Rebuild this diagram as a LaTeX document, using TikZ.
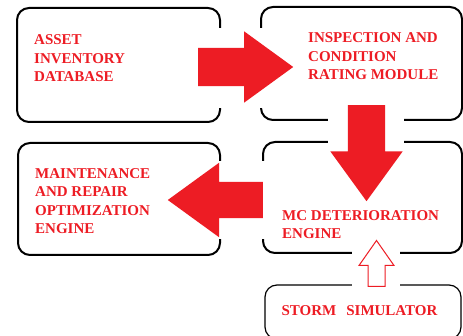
\documentclass[tikz,border=0pt]{standalone}
\usepackage{fontspec}
\setmainfont{Liberation Serif}
\usetikzlibrary{shapes.arrows,positioning}
\definecolor{flowred}{RGB}{237,28,36}

\begin{document}
\begin{tikzpicture}[x=1pt,y=-1pt]
    \tikzset{
      block/.style={
        draw,
        rectangle,
        rounded corners=12pt,
        line width=2pt
      },
      caption/.style={
        anchor=base west,
        align=left,
        inner sep=0pt,
        text=flowred,
        font=\fontsize{15}{18.5}\selectfont\bfseries
      },
      bigarrow/.style={
        single arrow,
        fill=flowred,
        anchor=tail,
        single arrow tip angle=72
      }
    };

    \useasboundingbox (0,0) rectangle (463,336);

    \node [block, minimum width=203pt, minimum height=114pt] (asset) at (118.5,65) {};
    \node [block, minimum width=201pt, minimum height=113pt] (inspect) at (361.5,63.5) {};
    \node [block, minimum width=199pt, minimum height=111pt] (mcdet) at (362.5,197.5) {};
    \node [block, minimum width=202pt, minimum height=112pt] (maint) at (119,199) {};
    \node [block, line width=1.2pt, minimum width=196pt, minimum height=54pt] (storm) at (363,312) {};

    % white gaps behind the arrows
    \fill[white] (196,28) rectangle (297,108);
    \fill[white] (328,104) rectangle (404,203);
    \fill[white] (166,161) rectangle (265,239);
    \fill[white] (352,238) rectangle (400,290);

    \node [bigarrow, shape border rotate=0, minimum height=95pt, inner xsep=0pt,
      inner ysep=19pt, single arrow head extend=16.5pt] (toinspect) at (198,67) {};
    \node [bigarrow, shape border rotate=270, minimum height=96pt, inner ysep=0pt,
      inner xsep=18.5pt, single arrow head extend=17.5pt] (tomc) at (366.5,105) {};
    \node [bigarrow, shape border rotate=180, minimum height=95pt, inner xsep=0pt,
      inner ysep=18pt, single arrow head extend=19pt] (tomaint) at (263,200) {};
    \node [bigarrow, fill=white, draw=flowred, line width=1pt, shape border rotate=90,
      minimum height=46pt, inner ysep=0pt, inner xsep=8pt, single arrow head extend=9pt,
      single arrow tip angle=70] (fromstorm) at (376.5,287) {};

    \node [caption] at ([shift={(18,75)}]asset.north west) {ASSET\\INVENTORY\\DATABASE};
    \node [caption] at ([shift={(48,74)}]inspect.north west) {INSPECTION AND\\CONDITION\\RATING MODULE};
    \node [caption] at ([shift={(18,92)}]maint.north west) {MAINTENANCE\\AND REPAIR\\OPTIMIZATION\\ENGINE};
    \node [caption] at ([shift={(20,98)}]mcdet.north west) {MC DETERIORATION\\ENGINE};
    \node [caption] at ([shift={(17,31)}]storm.north west) {STORM\hspace{10pt}SIMULATOR};
  \end{tikzpicture}
\end{document}
